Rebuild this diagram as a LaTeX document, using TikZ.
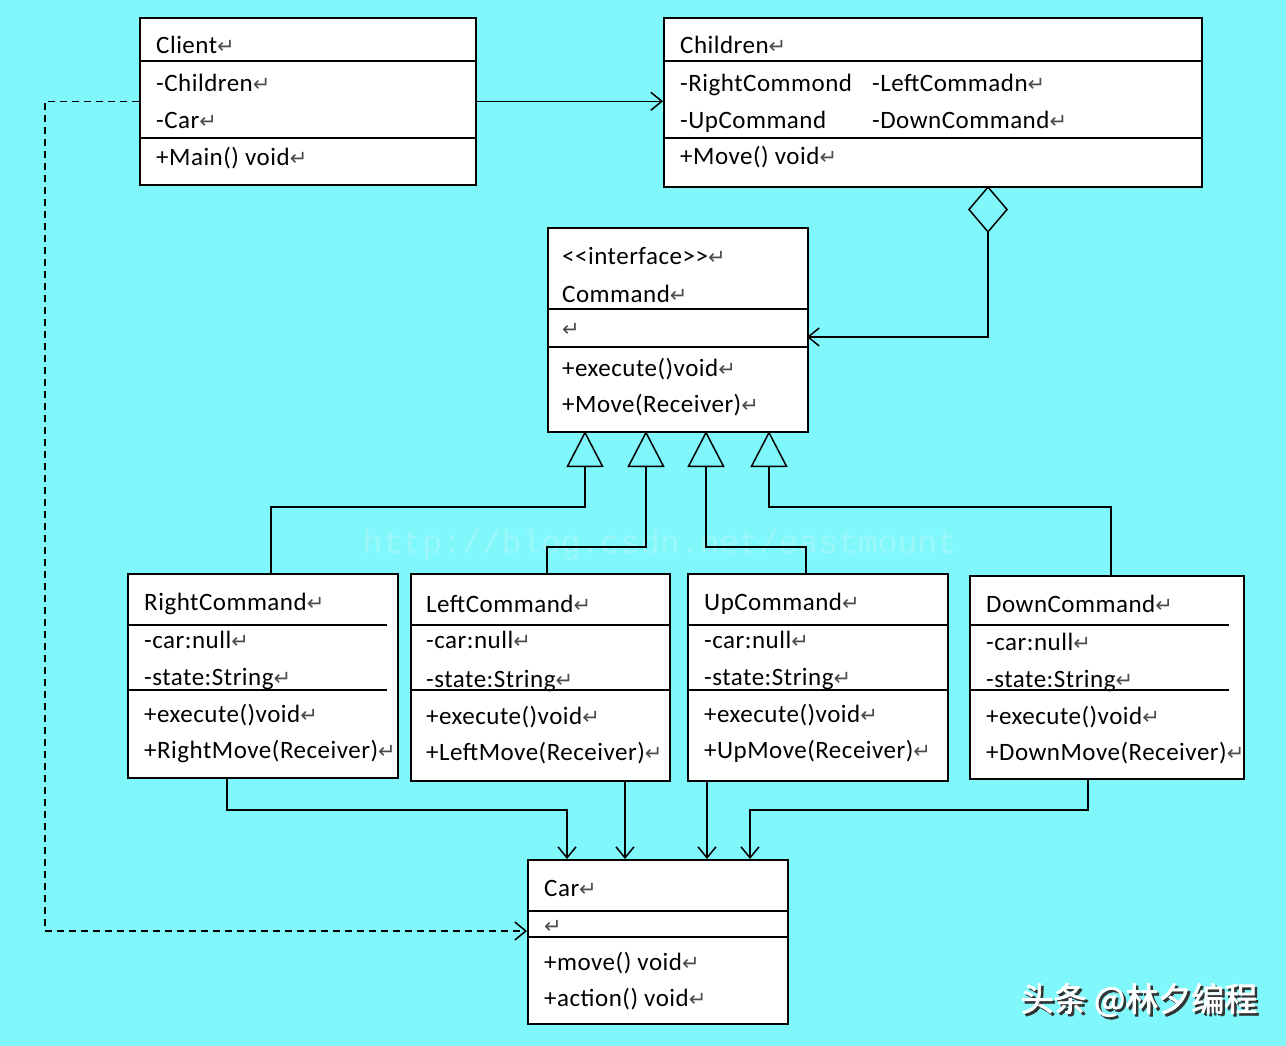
\documentclass[tikz,border=0pt]{standalone}
\usepackage{fontspec}
\setmainfont[LetterSpace=2]{Carlito}
\newfontfamily\symfont{DejaVu Sans}
\newfontfamily\cjkfont[FakeBold=2]{Noto Sans CJK SC}
\newfontfamily\wmfont{Liberation Mono}
\usetikzlibrary{arrows.meta}
\definecolor{bgc}{RGB}{128,248,251}
\definecolor{wmc}{RGB}{155,247,249}
\newcommand\retmk{{\symfont\fontsize{21}{21}\selectfont\color{black!70}↵}}
\begin{document}
\begin{tikzpicture}[x=1pt,y=-1pt,
  box/.style={draw,line width=1.6pt,fill=white,anchor=north west,inner sep=0pt},
  sep/.style={line width=1.6pt},
  txt/.style={anchor=west,inner sep=0pt,text height=17pt,text depth=0pt,font=\fontsize{25}{25}\selectfont},
  conn/.style={line width=1.5pt},
  arr/.style={-{Straight Barb[length=11pt,width=18pt,line width=1.5pt]}},
  tri/.style={-{Triangle[open,length=36pt,width=37pt,line width=1.5pt]}},
  dia/.style={{Diamond[open,length=47pt,width=40pt,line width=1.5pt]}-{Straight Barb[length=11pt,width=18pt,line width=1.5pt]}}
]
\fill[bgc] (0,0) rectangle (1286,1046);
\useasboundingbox (0,0) rectangle (1286,1046);

% faint watermark
\node[anchor=center,inner sep=0pt,font=\wmfont\fontsize{33}{33}\selectfont,text=wmc] (wm) at (660,545) {http://blog.csdn.net/eastmount};

% ---------- Client ----------
\node[box,minimum width=336pt,minimum height=167pt] (client) at (139,17) {};
\draw[sep] (139,61) -- (475,61);
\draw[sep] (139,138) -- (477,138);
\node[txt] (cl1) at (156,45) {Client\retmk};
\node[txt] (cl2) at (156,83) {-Children\retmk};
\node[txt] (cl3) at (156,120) {-Car\retmk};
\node[txt] (cl4) at (156,157) {+Main() void\retmk};

% ---------- Children ----------
\node[box,minimum width=538pt,minimum height=169pt] (children) at (663,17) {};
\draw[sep] (663,61) -- (1201,61);
\draw[sep] (663,138) -- (1201,138);
\node[txt] (ch1) at (680,45) {Children\retmk};
\node[txt] (ch2) at (680,83) {-RightCommond};
\node[txt] (ch3) at (872,83) {-LeftCommadn\retmk};
\node[txt] (ch4) at (680,120) {-UpCommand};
\node[txt] (ch5) at (872,120) {-DownCommand\retmk};
\node[txt] (ch6) at (680,156) {+Move() void\retmk};

% ---------- Command interface ----------
\node[box,minimum width=260pt,minimum height=204pt] (iface) at (547,227) {};
\draw[sep] (547,309) -- (807,309);
\draw[sep] (547,347) -- (807,347);
\node[txt] (if1) at (562,256) {{<}{<}interface{>}{>}\retmk};
\node[txt] (if2) at (562,294) {Command\retmk};
\node[txt] (if3) at (562,328) {\retmk};
\node[txt] (if4) at (562,368) {+execute()void\retmk};
\node[txt] (if5) at (562,404) {+Move(Receiver)\retmk};

% ---------- RightCommand ----------
\node[box,minimum width=270pt,minimum height=204pt] (rc) at (127,573) {};
\draw[sep] (129,625) -- (387,625);
\draw[sep] (129,690) -- (387,690);
\node[txt] (rc1) at (144,602) {RightCommand\retmk};
\node[txt] (rc2) at (144,640) {-car:null\retmk};
\node[txt] (rc3) at (144,677) {-state:String\retmk};
\node[txt] (rc4) at (144,714) {+execute()void\retmk};
\node[txt] (rc5) at (144,750) {+RightMove(Receiver)\retmk};

% ---------- LeftCommand ----------
\node[box,minimum width=259pt,minimum height=207pt] (lc) at (410,573) {};
\draw[sep] (410,625) -- (669,625);
\draw[sep] (410,690) -- (669,690);
\node[txt] (lc1) at (426,604) {LeftCommand\retmk};
\node[txt] (lc2) at (426,640) {-car:null\retmk};
\node[txt] (lc3) at (426,679) {-state:String\retmk};
\node[txt] (lc4) at (426,716) {+execute()void\retmk};
\node[txt] (lc5) at (426,752) {+LeftMove(Receiver)\retmk};

% ---------- UpCommand ----------
\node[box,minimum width=260pt,minimum height=207pt] (uc) at (687,573) {};
\draw[sep] (687,625) -- (947,625);
\draw[sep] (687,690) -- (947,690);
\node[txt] (uc1) at (704,602) {UpCommand\retmk};
\node[txt] (uc2) at (704,640) {-car:null\retmk};
\node[txt] (uc3) at (704,677) {-state:String\retmk};
\node[txt] (uc4) at (704,714) {+execute()void\retmk};
\node[txt] (uc5) at (704,750) {+UpMove(Receiver)\retmk};

% ---------- DownCommand ----------
\node[box,minimum width=274pt,minimum height=203pt] (dc) at (969,575) {};
\draw[sep] (969,625) -- (1229,625);
\draw[sep] (969,690) -- (1229,690);
\node[txt] (dc1) at (986,604) {DownCommand\retmk};
\node[txt] (dc2) at (986,642) {-car:null\retmk};
\node[txt] (dc3) at (986,679) {-state:String\retmk};
\node[txt] (dc4) at (986,716) {+execute()void\retmk};
\node[txt] (dc5) at (986,752) {+DownMove(Receiver)\retmk};

% ---------- Car ----------
\node[box,minimum width=260pt,minimum height=164pt] (car) at (527,859) {};
\draw[sep] (527,911) -- (787,911);
\draw[sep] (527,937) -- (787,937);
\node[txt] (ca1) at (544,888) {Car\retmk};
\node[txt] (ca2) at (544,925) {\retmk};
\node[txt] (ca3) at (544,962) {+move() void\retmk};
\node[txt] (ca4) at (544,998) {+action() void\retmk};

% ---------- connectors ----------
% association Client -> Children
\draw[conn,arr] (client.east) -- (client.east -| children.west);

% dependency Client -> Car (dashed)
\coordinate (dcar) at (527,931);
\draw[conn,arr,dash pattern=on 7pt off 5pt] (client.west) -- ++(-94,0) |- (dcar);

% aggregation Children <>-> Command
\coordinate (agg) at (988,186);
\coordinate (aggin) at (807,337);
\draw[conn,dia] (agg) -- (988,337) -- (aggin);

% realisations to the interface
\coordinate (t1) at (585,431);
\coordinate (t2) at (646,431);
\coordinate (t3) at (706,431);
\coordinate (t4) at (769,431);
\draw[conn,tri] (271,573) -- (271,507) -- (585,507) -- (t1);
\draw[conn,tri] (547,573) -- (547,547) -- (646,547) -- (t2);
\draw[conn,tri] (806,573) -- (806,547) -- (706,547) -- (t3);
\draw[conn,tri] (1111,575) -- (1111,507) -- (769,507) -- (t4);

% associations to Car
\coordinate (a1) at (567,859);
\coordinate (a2) at (625,859);
\coordinate (a3) at (707,859);
\coordinate (a4) at (750,859);
\draw[conn,arr] (227,777) -- (227,810) -- (567,810) -- (a1);
\draw[conn,arr] (625,780) -- (a2);
\draw[conn,arr] (707,780) -- (a3);
\draw[conn,arr] (1088,778) -- (1088,810) -- (750,810) -- (a4);

% bottom-right watermark
\node[anchor=center,inner sep=0pt,text=black!80,font=\cjkfont\fontsize{33}{33}\selectfont] (tt0) at (1141.5,1002.5) {头条 @林夕编程};
\node[anchor=center,inner sep=0pt,text=white,font=\cjkfont\fontsize{33}{33}\selectfont] (tt) at (1139,1000) {头条 @林夕编程};
\end{tikzpicture}
\end{document}
